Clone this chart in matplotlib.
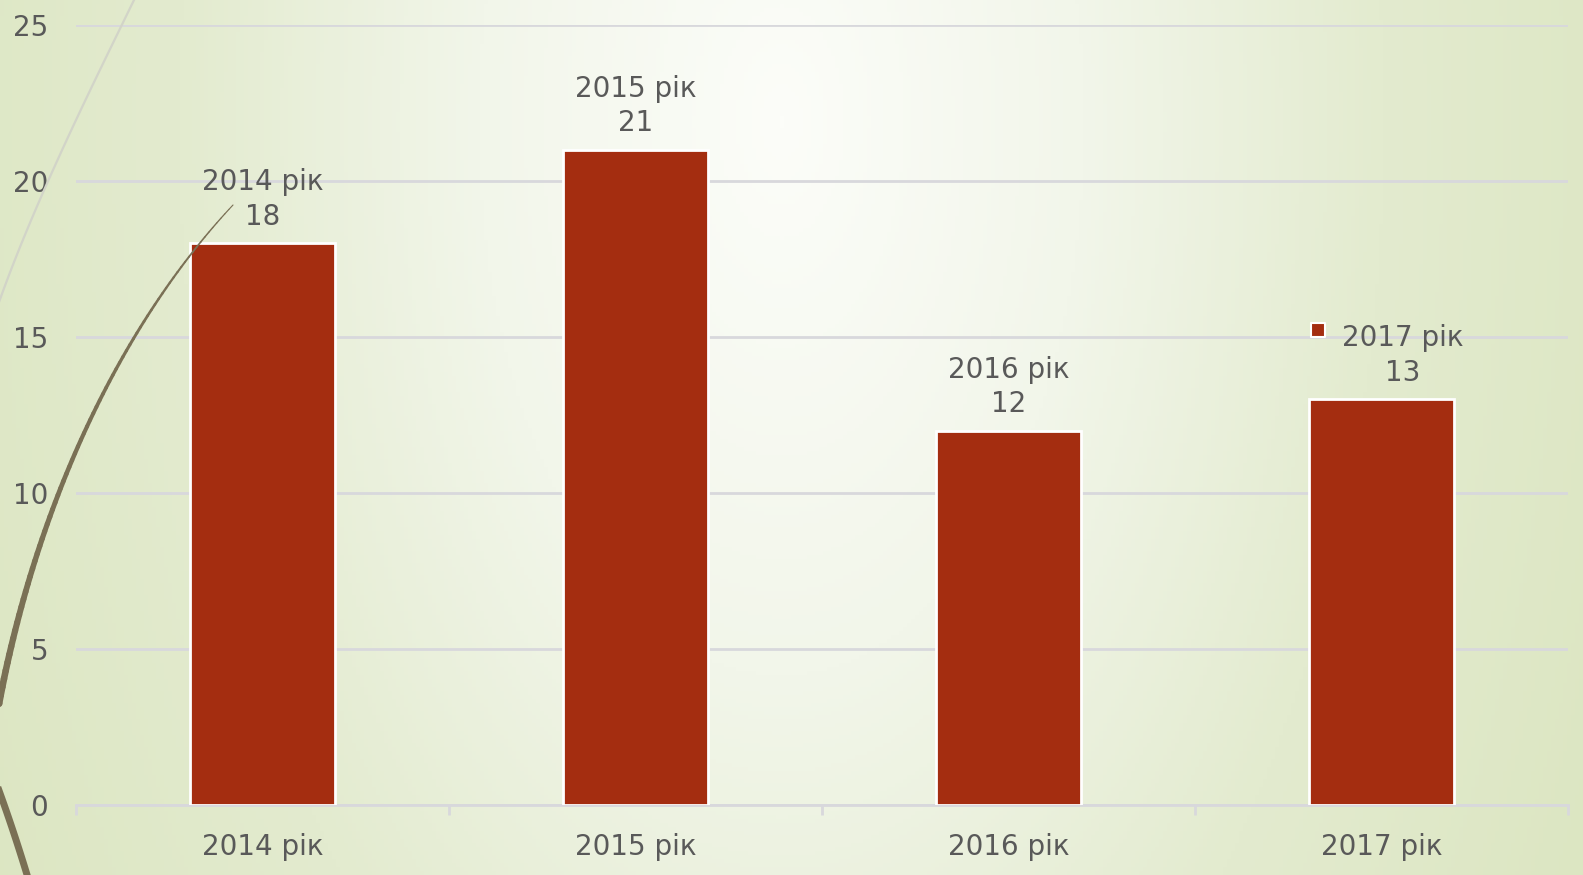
import numpy as np
import matplotlib
matplotlib.use("Agg")
import matplotlib.pyplot as plt
from matplotlib.collections import LineCollection
from matplotlib.colors import LinearSegmentedColormap
from matplotlib.transforms import offset_copy

categories = ["2014 рік", "2015 рік", "2016 рік", "2017 рік"]
values = [18, 21, 12, 13]
yticks = [0, 5, 10, 15, 20, 25]

W, H = 1583, 875
fig = plt.figure(figsize=(W / 100, H / 100), dpi=100)

# background gradient
bg = fig.add_axes([0, 0, 1, 1], zorder=-10)
yy, xx = np.mgrid[0:H:4, 0:W:4]
d = np.sqrt(((xx - 780) / 820.0) ** 2 + ((yy - 120) / 1500.0) ** 2)
cmap = LinearSegmentedColormap.from_list("g", ["#fcfdf9", "#f2f6ea", "#e3ebcf", "#dce6c2"])
bg.imshow(np.clip(d, 0, 1.1), cmap=cmap, extent=[0, W, H, 0], aspect="auto", vmin=0, vmax=1.1)
bg.set_xlim(0, W)
bg.set_ylim(H, 0)
bg.axis("off")

text_color = "#595959"
grid_color = "#d8d8dc"
bar_color = "#a42d10"

ax = fig.add_axes([76 / W, 1 - 805 / H, (1568 - 76) / W, (805 - 25) / H])
ax.set_facecolor("none")
x = np.arange(len(categories))
ax.bar(x, values, width=0.39, color=bar_color, edgecolor="white", linewidth=2, zorder=3)
ax.set_xlim(-0.5, len(categories) - 0.5)
ax.set_ylim(0, 25)
ax.set_yticks(yticks)
ax.set_yticklabels([str(t) for t in yticks])
ax.grid(axis="y", color=grid_color, linewidth=2, zorder=0)
ax.set_axisbelow(True)
for s in ["top", "right", "left"]:
    ax.spines[s].set_visible(False)
ax.spines["bottom"].set_color(grid_color)
ax.spines["bottom"].set_linewidth(2)
ax.set_xticks(x)
ax.set_xticklabels(categories)
ax.set_xticks(np.arange(-0.5, len(categories)), minor=True)
ax.tick_params(axis="x", which="major", length=0, pad=20, labelsize=20, labelcolor=text_color)
ax.tick_params(axis="x", which="minor", length=7, width=2, color=grid_color, direction="out")
ax.tick_params(axis="y", length=0, pad=20, labelsize=20, labelcolor=text_color)

last = len(categories) - 1
for i, (c, v) in enumerate(zip(categories, values)):
    dx = 15 if i == last else 0
    ax.annotate(f"{c}\n{v}", xy=(i, v), xytext=(dx, 9), textcoords="offset points",
                ha="center", va="bottom", fontsize=20, color=text_color, linespacing=1.3, zorder=5)
    if i == last:
        trans = offset_copy(ax.transData, fig=fig, x=-46, y=50, units="points")
        ax.scatter([i], [v], marker="s", s=90, color=bar_color, edgecolor="white",
                   linewidth=1.5, transform=trans, zorder=6, clip_on=False)

# decorative curves (overlay)
ov = fig.add_axes([0, 0, 1, 1], zorder=10)
ov.set_xlim(0, W)
ov.set_ylim(H, 0)
ov.axis("off")
ov.patch.set_alpha(0)

def bez(p0, p1, p2, p3, n=80):
    t = np.linspace(0, 1, n)[:, None]
    p0, p1, p2, p3 = map(np.array, (p0, p1, p2, p3))
    return (1 - t) ** 3 * p0 + 3 * (1 - t) ** 2 * t * p1 + 3 * (1 - t) * t ** 2 * p2 + t ** 3 * p3

g = bez((135, -2), (95, 80), (35, 200), (-2, 305))
ov.plot(g[:, 0], g[:, 1], color="#d2d4c8", linewidth=1.6)

b = bez((233, 205), (125, 320), (35, 500), (-4, 720))
segs = np.stack([b[:-1], b[1:]], axis=1)
lw = np.linspace(0.8, 5.0, len(segs))
ov.add_collection(LineCollection(segs, linewidths=lw, colors="#7a7055", capstyle="round"))

b2 = bez((-3, 785), (8, 815), (18, 845), (28, 878))
ov.plot(b2[:, 0], b2[:, 1], color="#7a7055", linewidth=5)

fig.savefig("out.png", dpi=100)
